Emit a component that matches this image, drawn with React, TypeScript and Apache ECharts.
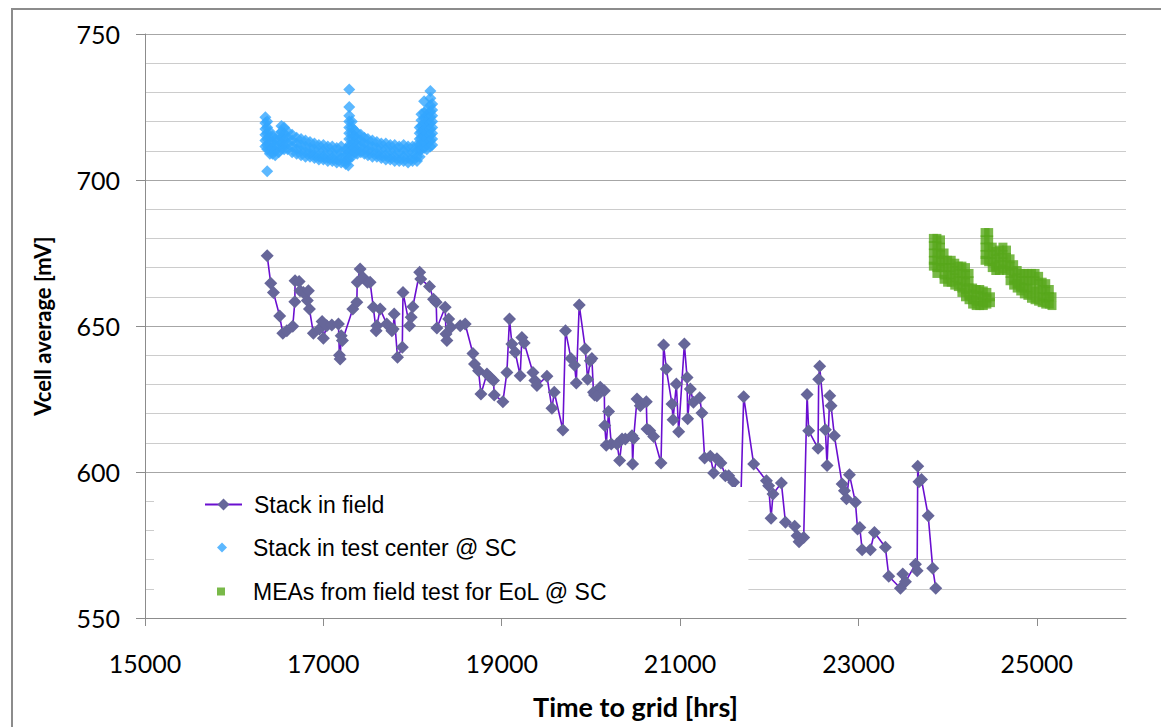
import React, { useEffect, useRef } from "react";
import * as echarts from "echarts";

// ---- Data ----
const seriesNames = [
  "Stack in field",
  "Stack in test center @ SC",
  "MEAs from field test for EoL @ SC",
];

const xTicks = { min: 15000, max: 26000, interval: 2000 };
const yTicks = { min: 550, max: 750, interval: 50 };

// Stack in field: [hours, mV]
const stackInField: [number, number][] = [
  [16370, 674.1], [16410, 664.6], [16440, 661.5], [16510, 653.4], [16545, 647.5],
  [16590, 648.4], [16657, 649.9], [16680, 658.3], [16683, 665.5], [16728, 665.2],
  [16739, 662.1], [16776, 661.5], [16820, 658.7], [16832, 662.1], [16844, 655.8],
  [16888, 647.5], [16956, 649], [16986, 651.5], [17000, 645.8], [17038, 650.1],
  [17095, 650.3], [17169, 650.7], [17180, 640], [17188, 638.7], [17200, 646.7],
  [17214, 645], [17330, 655.8], [17375, 658.1], [17380, 665], [17412, 669.5],
  [17442, 666.7], [17494, 665], [17524, 665], [17560, 656.4], [17592, 648.4],
  [17600, 650.1], [17637, 655.8], [17711, 650.7], [17768, 648.4], [17783, 649],
  [17794, 654.1], [17831, 639.3], [17885, 642.7], [17893, 661.5], [17966, 650.1],
  [17985, 653], [18003, 656.6], [18080, 668.4], [18092, 666.1], [18190, 663.5],
  [18235, 659.2], [18265, 658.1], [18273, 649.3], [18366, 656.4], [18375, 647.3],
  [18385, 645], [18405, 652.4], [18430, 649.6], [18534, 650.1], [18590, 650.7],
  [18677, 640.6], [18695, 637], [18740, 634.7], [18767, 626.7], [18834, 633.6],
  [18871, 632.4], [18908, 631.3], [18916, 626.4], [19013, 624.1], [19058, 634.1],
  [19087, 652.4], [19114, 643.8], [19151, 641], [19207, 633], [19226, 646.1],
  [19252, 644.2], [19350, 634.1], [19372, 631.3], [19395, 629.6], [19507, 632.8],
  [19563, 621.8], [19589, 627.3], [19686, 614.4], [19715, 648.4], [19776, 638.9],
  [19817, 636.6], [19836, 630.5], [19869, 657.2], [19937, 642.1], [19963, 631.8],
  [19993, 638.1], [20011, 638.9], [20029, 627.3], [20041, 626.4], [20067, 626.1],
  [20105, 629], [20150, 627.8], [20155, 615.9], [20172, 609.2], [20198, 620.7],
  [20228, 609.6], [20293, 609.6], [20322, 603.9], [20349, 611.3], [20386, 611.3],
  [20461, 612.4], [20468, 602.7], [20479, 611.5], [20517, 625], [20554, 622.7],
  [20621, 624.1], [20629, 614.7], [20660, 614.1], [20703, 612.2], [20786, 603.1],
  [20815, 643.5], [20845, 635.3], [20909, 623.3], [20921, 617.9], [20958, 630.1],
  [20984, 613.8], [21048, 643.8], [21078, 632.4], [21085, 618.2], [21115, 628.4],
  [21150, 623.9], [21220, 625.4], [21245, 620.2], [21275, 604.8], [21339, 605.4],
  [21376, 599.7], [21413, 604.5], [21458, 603.1], [21508, 598.7], [21545, 598.7],
  [21601, 596.5], [21680, 589], [21713, 625.8], [21825, 602.7], [21968, 597],
  [21993, 595.3], [22020, 584.2], [22042, 592.5], [22136, 596.2], [22181, 582.8],
  [22285, 581.4], [22312, 578.2], [22334, 576.1], [22386, 577.6], [22424, 626.5],
  [22442, 614.1], [22547, 608.1], [22554, 631.8], [22565, 636.2], [22629, 614.5],
  [22648, 602.2], [22678, 626.1], [22693, 622.7], [22730, 612.4], [22817, 595.9],
  [22843, 593.6], [22865, 590.8], [22899, 599.1], [22966, 589.6], [22990, 580.5],
  [23015, 581], [23041, 573.4], [23134, 573.4], [23179, 579.3], [23302, 574.2],
  [23340, 564.3], [23471, 560.2], [23497, 565.1], [23527, 562.4], [23639, 568.4],
  [23658, 566.2], [23665, 602], [23678, 596.7], [23707, 597.4], [23782, 585],
  [23833, 567], [23867, 560.2],
];

// Stack in test center @ SC: [hours, readings in mV at that time]
const testCenterCols: [number, number[]][] = [
  [16370, [703]],
  [16350, [721.5, 719.5, 717.5, 715.5, 713.5, 711.5]],
  [16370, [720, 718, 716, 714, 712, 710.5]],
  [16400, [716.5, 714.5, 712.5, 710.5, 709]],
  [16430, [715, 713, 711, 709]],
  [16460, [714, 712, 710, 708.5]],
  [16500, [715.5, 713.5, 711.5, 709.5]],
  [16530, [718.5, 716.5, 714.5, 712.5, 710.5]],
  [16560, [718, 716, 714, 712, 710.5]],
  [16600, [716.5, 714.5, 712.5, 710.5]],
  [16650, [715.5, 713.5, 711.5, 709.5]],
  [16700, [714.5, 712.5, 710.5, 709]],
  [16750, [714, 712, 710, 708.5]],
  [16800, [713.5, 711.5, 709.5, 708]],
  [16850, [713, 711, 709, 708]],
  [16900, [712.5, 710.5, 708.5, 707.5]],
  [16950, [712, 710, 708, 707]],
  [17000, [712, 710, 708, 707]],
  [17050, [711.5, 709.5, 707.5, 706.5]],
  [17100, [711.5, 709.5, 707.5, 706.5]],
  [17150, [711, 709, 707, 706]],
  [17200, [711.5, 709.5, 707.5, 706]],
  [17250, [710.5, 708.5, 706.5, 705.5]],
  [17280, [711, 709, 707, 705]],
  [17290, [731, 725, 722, 720, 718, 716, 714, 712, 710, 708]],
  [17320, [720, 718, 716, 714, 712, 710, 708]],
  [17350, [717, 715, 713, 711, 709.5]],
  [17380, [716, 714, 712, 710, 709]],
  [17420, [715.5, 713.5, 711.5, 709.5]],
  [17460, [714.5, 712.5, 710.5, 709]],
  [17500, [714, 712, 710, 708.5]],
  [17550, [713.5, 711.5, 709.5, 708]],
  [17600, [713, 711, 709, 708]],
  [17650, [712.5, 710.5, 708.5, 707.5]],
  [17700, [712.5, 710.5, 708.5, 707]],
  [17750, [712, 710, 708, 707]],
  [17800, [712, 710, 708, 706.5]],
  [17850, [711.5, 709.5, 707.5, 706.5]],
  [17900, [712, 710, 708, 706.5]],
  [17950, [711.5, 709.5, 707.5, 706]],
  [18000, [711.5, 709.5, 707.5, 706.5]],
  [18050, [712, 710, 708, 706.5]],
  [18080, [718, 716, 714, 712, 710, 708]],
  [18100, [722.5, 720.5, 718.5, 716.5, 714.5, 712.5, 710.5]],
  [18130, [727, 723, 721, 719, 717, 715, 713, 711]],
  [18160, [724, 722, 720, 718, 716, 714, 712, 710.5]],
  [18200, [730.5, 728, 725.5, 723.5, 721.5, 719.5, 717.5, 715.5, 713.5, 711.5]],
  [18220, [726, 724, 722, 720, 718, 716, 714, 712]],
];

// MEAs from field test for EoL @ SC: [hours, readings in mV at that time]
const eolCols: [number, number[]][] = [
  [23840, [680, 677.5, 675, 672.5, 670.5]],
  [23880, [680, 677.5, 675, 672.5, 670, 668]],
  [23920, [679.5, 677, 674.5, 672, 670]],
  [23960, [675, 672.5, 670, 667.5, 666]],
  [24000, [672.5, 670, 667.5, 665]],
  [24040, [672.5, 670, 667.5, 665]],
  [24080, [671.5, 669, 666.5, 664]],
  [24120, [670.5, 668, 665.5, 663.5]],
  [24160, [670.5, 668, 665.5, 663, 661.5]],
  [24200, [670, 667.5, 665, 662.5, 660]],
  [24240, [668, 665.5, 663, 660.5, 659]],
  [24280, [663, 661, 659, 657.5]],
  [24320, [662.5, 660.5, 658.5, 657]],
  [24360, [662.5, 660.5, 658.5, 657]],
  [24400, [662, 660, 658, 657]],
  [24440, [661.5, 659.5, 657.5]],
  [24480, [660, 658]],
  [24420, [682, 679.5, 677, 674.5, 672.5]],
  [24460, [682, 679.5, 677, 674.5, 672]],
  [24500, [677, 674.5, 672, 670]],
  [24540, [675.5, 673, 670.5, 669]],
  [24580, [676, 673.5, 671, 669]],
  [24620, [677, 674.5, 672, 669.5]],
  [24660, [676, 673.5, 671, 669]],
  [24700, [673, 670.5, 668, 665.5]],
  [24740, [671, 668.5, 666, 664]],
  [24780, [669, 666.5, 664.5, 663]],
  [24820, [668, 665.5, 663.5, 662]],
  [24860, [668, 665.5, 663, 661]],
  [24900, [668, 665.5, 663, 660.5]],
  [24940, [668, 665.5, 662.5, 659.5]],
  [24980, [668, 665.5, 662, 659]],
  [25020, [667, 664.5, 661.5, 658.5]],
  [25060, [665, 662.5, 660, 658]],
  [25100, [664.5, 662, 659.5, 657.5]],
  [25140, [662.5, 660, 657.5]],
  [25170, [660, 657]],
];

const flatten = (cols: [number, number[]][]) =>
  cols.flatMap(([h, vals]) => vals.map((v) => [h, v]));

const labelFont = "Lato, 'Open Sans', sans-serif";
const legendFont = "'Liberation Sans', Arial, sans-serif";

export default function App() {
  const ref = useRef<HTMLDivElement>(null);

  useEffect(() => {
    if (!ref.current) return;
    const chart = echarts.init(ref.current, undefined, { renderer: "svg" });
    const legendText = { fontFamily: legendFont, fontSize: 23, color: "#000" };
    const option: any = {
      animation: false,
      backgroundColor: "#ffffff",
      grid: { left: 145, right: 35, top: 34, bottom: 109, containLabel: false },
      legend: [
        {
          data: [seriesNames[0]],
          orient: "vertical",
          left: 154,
          top: 487,
          padding: [6, 364, 95, 50],
          backgroundColor: "#ffffff",
          itemWidth: 37,
          itemHeight: 15,
          z: 4,
          textStyle: { ...legendText, padding: [0, 0, 0, 7] },
        },
        {
          data: [seriesNames[1]],
          orient: "vertical",
          left: 217,
          top: 536,
          padding: 0,
          itemWidth: 10,
          itemHeight: 10,
          z: 5,
          textStyle: { ...legendText, padding: [0, 0, 0, 21] },
        },
        {
          data: [seriesNames[2]],
          orient: "vertical",
          left: 217,
          top: 580,
          padding: 0,
          itemWidth: 8,
          itemHeight: 8,
          z: 5,
          textStyle: { ...legendText, padding: [0, 0, 0, 23] },
        },
      ],
      graphic: [
        {
          type: "rect",
          silent: true,
          z: 100,
          shape: { x: 12, y: 9, width: 1300, height: 900 },
          style: { fill: "none", stroke: "#8c8c8c", lineWidth: 2 },
        },
      ],
      xAxis: {
        type: "value",
        min: xTicks.min,
        max: xTicks.max,
        interval: xTicks.interval,
        name: "Time to grid [hrs]",
        nameLocation: "middle",
        nameGap: 75,
        nameTextStyle: {
          fontFamily: labelFont,
          fontWeight: "bold",
          fontSize: 27,
          color: "#000",
        },
        axisLine: { show: true, lineStyle: { color: "#8c8c8c", width: 1 } },
        axisTick: { show: true, length: 8, lineStyle: { color: "#8c8c8c" } },
        axisLabel: {
          margin: 32,
          fontFamily: labelFont,
          fontSize: 25,
          color: "#000",
          showMaxLabel: false,
          formatter: (v: number) => String(v),
        },
        splitLine: { show: false },
      },
      yAxis: {
        type: "value",
        min: yTicks.min,
        max: yTicks.max,
        interval: yTicks.interval,
        name: "Vcell average [mV]",
        nameLocation: "middle",
        nameGap: 92,
        nameRotate: 90,
        nameTextStyle: {
          fontFamily: labelFont,
          fontWeight: "bold",
          fontSize: 22,
          color: "#000",
        },
        axisLine: { show: true, lineStyle: { color: "#8c8c8c", width: 1 } },
        axisTick: { show: true, length: 9, lineStyle: { color: "#8c8c8c" } },
        axisLabel: {
          margin: 25,
          fontFamily: labelFont,
          fontSize: 25,
          color: "#000",
          formatter: (v: number) => String(v),
        },
        splitLine: { show: true, lineStyle: { color: "#a6a6a6", width: 1 } },
        minorTick: { show: false, splitNumber: 5 },
        minorSplitLine: { show: true, lineStyle: { color: "#cccccc", width: 1 } },
      },
      series: [
        {
          name: seriesNames[0],
          type: "line",
          data: stackInField,
          symbol: "diamond",
          symbolSize: 13,
          showAllSymbol: true,
          itemStyle: { color: "#666699" },
          lineStyle: { color: "#6a0fd0", width: 1.6 },
          z: 3,
        },
        {
          name: seriesNames[1],
          type: "scatter",
          data: flatten(testCenterCols),
          symbol: "diamond",
          symbolSize: 12,
          itemStyle: { color: "#33a6ff" },
          z: 2,
        },
        {
          name: seriesNames[2],
          type: "scatter",
          data: flatten(eolCols),
          symbol: "rect",
          symbolSize: 9,
          itemStyle: { color: "#58a81c" },
          z: 2,
        },
      ],
    };
    chart.setOption(option);
    return () => chart.dispose();
  }, []);

  return (
    <div
      ref={ref}
      style={{ position: "absolute", left: 0, top: 0, width: 1161, height: 727 }}
    />
  );
}
